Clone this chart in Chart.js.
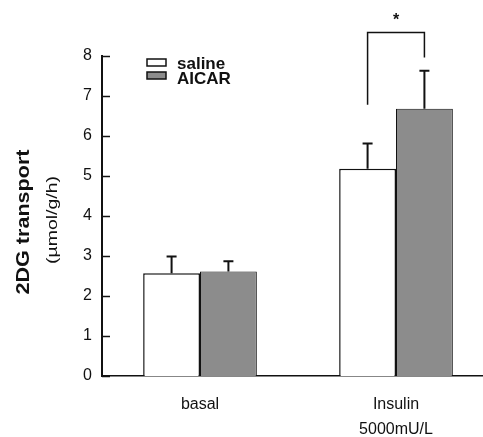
<!DOCTYPE html>
<html><head><meta charset="utf-8">
<script src="https://cdn.jsdelivr.net/npm/chart.js@4"></script>
<style>html,body{margin:0;padding:0;background:#fff;overflow:hidden}#wrap{width:495px;height:437px}</style>
</head><body><div id="wrap"><canvas id="c" width="495" height="437"></canvas></div>
<script>
const categories = ['basal', ['Insulin', '5000mU/L']];
const seriesNames = ['saline', 'AICAR'];
const salineValues = [2.57, 5.18];
const aicarValues = [2.61, 6.68];
const salineErrors = [0.42, 0.63];
const aicarErrors = [0.26, 0.95];
const yTicks = [0, 1, 2, 3, 4, 5, 6, 7, 8];
const yTitle = '2DG transport';
const yUnit = '(µmol/g/h)';
const sigCategory = 1;
const sigLeftEnd = 6.78;
const sigRightEnd = 7.96;
const sigTop = 8.59;
const sigLabel = '*';

const FONT = "'Liberation Sans', Arial, sans-serif";
const errors = [salineErrors, aicarErrors];

function stretchedText(ctx, text, x, y, font, length) {
  ctx.save();
  ctx.translate(x, y); ctx.rotate(-Math.PI / 2);
  ctx.font = font; ctx.textAlign = 'center'; ctx.textBaseline = 'alphabetic';
  const w = ctx.measureText(text).width;
  ctx.scale(length / w, 1);
  ctx.fillText(text, 0, 0);
  ctx.restore();
}

const extras = {
  id: 'extras',
  afterDatasetsDraw(chart) {
    const ctx = chart.ctx;
    const y = chart.scales.y;
    const area = chart.chartArea;
    ctx.save();
    ctx.strokeStyle = '#111';
    ctx.fillStyle = '#111';
    // inward ticks
    ctx.lineWidth = 1.5;
    yTicks.forEach(t => {
      const py = Math.round(y.getPixelForValue(t)) + 0.5;
      ctx.beginPath(); ctx.moveTo(area.left, py); ctx.lineTo(area.left + 8, py); ctx.stroke();
    });
    // error bars (upper only)
    ctx.lineWidth = 2;
    chart.data.datasets.forEach((ds, di) => {
      const meta = chart.getDatasetMeta(di);
      meta.data.forEach((el, i) => {
        const top = y.getPixelForValue(ds.data[i] + errors[di][i]);
        ctx.beginPath();
        ctx.moveTo(el.x, el.y); ctx.lineTo(el.x, top);
        ctx.moveTo(el.x - 5, top); ctx.lineTo(el.x + 5, top);
        ctx.stroke();
      });
    });
    // significance bracket
    const xl = chart.getDatasetMeta(0).data[sigCategory].x;
    const xr = chart.getDatasetMeta(1).data[sigCategory].x;
    const yt = y.getPixelForValue(sigTop);
    ctx.lineWidth = 1.5;
    ctx.beginPath();
    ctx.moveTo(xl, y.getPixelForValue(sigLeftEnd));
    ctx.lineTo(xl, yt); ctx.lineTo(xr, yt);
    ctx.lineTo(xr, y.getPixelForValue(sigRightEnd));
    ctx.stroke();
    ctx.font = 'bold 16px ' + FONT;
    ctx.textAlign = 'center'; ctx.textBaseline = 'alphabetic';
    ctx.fillText(sigLabel, (xl + xr) / 2, yt - 7);
    // legend
    ctx.font = 'bold 17px ' + FONT;
    ctx.textAlign = 'left'; ctx.textBaseline = 'alphabetic';
    chart.data.datasets.forEach((ds, di) => {
      const by = 59 + di * 13;
      ctx.fillStyle = ds.backgroundColor;
      ctx.fillRect(147, by, 19, 7);
      ctx.lineWidth = 1.5; ctx.strokeStyle = '#111';
      ctx.strokeRect(147, by, 19, 7);
      ctx.fillStyle = '#111';
      ctx.fillText(ds.label, 177, by + 10 + di * 2);
    });
    // y titles
    stretchedText(ctx, yTitle, 29, 222, 'bold 19px ' + FONT, 145);
    stretchedText(ctx, yUnit, 57, 220, '15px ' + FONT, 88);
    ctx.restore();
  }
};

new Chart(document.getElementById('c'), {
  type: 'bar',
  data: {
    labels: categories,
    datasets: [
      { label: seriesNames[0], data: salineValues, backgroundColor: '#ffffff', borderColor: '#111', borderWidth: 1.5 },
      { label: seriesNames[1], data: aicarValues, backgroundColor: '#8c8c8c', borderColor: '#111', borderWidth: 1 }
    ]
  },
  options: {
    responsive: false,
    animation: false,
    devicePixelRatio: 1,
    layout: { padding: { top: 56, right: 1, left: 0, bottom: 0 } },
    datasets: { bar: { barPercentage: 1, categoryPercentage: 0.58 } },
    plugins: { legend: { display: false }, tooltip: { enabled: false } },
    scales: {
      x: {
        grid: { display: false, drawTicks: false },
        border: { color: '#111', width: 1.5 },
        ticks: { color: '#111', font: { family: FONT, size: 16, lineHeight: 1.55 }, padding: 16 },
        afterFit: s => { s.height = 61; }
      },
      y: {
        min: 0, max: 8,
        afterBuildTicks: s => { s.ticks = yTicks.map(v => ({ value: v })); },
        grid: { display: false, drawTicks: false },
        border: { color: '#111', width: 2 },
        ticks: { color: '#111', font: { family: FONT, size: 16 }, padding: 10 },
        afterFit: s => { s.width = 102; }
      }
    }
  },
  plugins: [extras]
});
</script>
</body></html>
